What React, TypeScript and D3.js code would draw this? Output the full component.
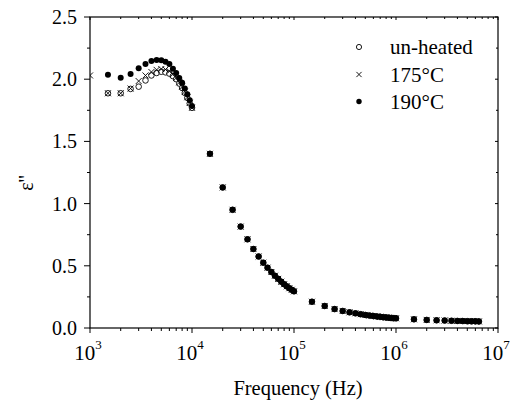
import React from "react";
import * as d3 from "d3";

// Frequencies (Hz)
const freqLow = [1500, 2000, 2500, 3000, 3500, 4000, 4500, 5000, 5500, 6000, 6500, 7000, 7500, 8000, 8500, 9000, 9500, 10000];
const freqHigh = [
  15000, 20000, 25000, 30000, 35000, 40000, 45000, 50000, 55000, 60000, 65000, 70000, 75000, 80000, 85000, 90000, 95000, 100000,
  150000, 200000, 250000, 300000, 350000, 400000, 450000, 500000, 550000, 600000, 650000, 700000, 750000, 800000, 850000, 900000, 950000, 1000000,
  1500000, 2000000, 2500000, 3000000, 3500000, 4000000, 4500000, 5000000, 5500000, 6000000, 6500000,
];

// ε'' low-frequency part per series
const unheatedLow = [1.887, 1.887, 1.922, 1.94, 1.99, 2.03, 2.05, 2.06, 2.055, 2.045, 2.025, 2.0, 1.965, 1.93, 1.89, 1.85, 1.805, 1.77];
const t175Low = [1.887, 1.887, 1.925, 1.985, 2.03, 2.058, 2.075, 2.082, 2.078, 2.065, 2.04, 2.01, 1.975, 1.94, 1.9, 1.855, 1.81, 1.77];
const t190Low = [2.035, 2.012, 2.042, 2.088, 2.122, 2.146, 2.154, 2.152, 2.14, 2.122, 2.085, 2.05, 2.01, 1.972, 1.925, 1.88, 1.83, 1.785];

// ε'' high-frequency part (the three samples coincide)
const sharedHigh = [
  1.4, 1.13, 0.95, 0.815, 0.713, 0.635, 0.575, 0.525, 0.485, 0.45, 0.42, 0.395, 0.372, 0.352, 0.335, 0.32, 0.307, 0.295,
  0.211, 0.177, 0.152, 0.137, 0.126, 0.118, 0.111, 0.105, 0.1, 0.096, 0.093, 0.09, 0.087, 0.085, 0.083, 0.081, 0.079, 0.078,
  0.07, 0.065, 0.062, 0.06, 0.058, 0.057, 0.056, 0.055, 0.054, 0.054, 0.053,
];

// extra 1 kHz point for 175°C (clipped at the axis)
const t175Extra = [{ f: 1000, v: 2.03 }];

const legendLabels = ["un-heated", "175°C", "190°C"];
const xTickExps = [3, 4, 5, 6, 7];
const yTicks = [0, 0.5, 1, 1.5, 2, 2.5];

const W = 516, H = 403;
const M = { left: 90, right: 498, top: 17, bottom: 328 };
const FONT = "'Liberation Serif', 'Times New Roman', serif";

export default function App() {
  const x = d3.scaleLog().domain([1e3, 1e7]).range([M.left, M.right]);
  const y = d3.scaleLinear().domain([0, 2.5]).range([M.bottom, M.top]);

  const allF = freqLow.concat(freqHigh);
  const mk = (low: number[]) => allF.map((f, i) => ({ f, v: i < low.length ? low[i] : sharedHigh[i - low.length] }));
  const unheated = mk(unheatedLow);
  const t175 = t175Extra.concat(mk(t175Low));
  const t190 = mk(t190Low);

  const minorX: number[] = [];
  for (let e = 3; e < 7; e++) for (let k = 2; k <= 9; k++) minorX.push(k * Math.pow(10, e));
  const minorY = d3.range(0.25, 2.5, 0.5);

  const cross = (cx: number, cy: number, s: number, key: any) => (
    <path key={key} d={`M${cx - s},${cy - s}L${cx + s},${cy + s}M${cx - s},${cy + s}L${cx + s},${cy - s}`} stroke="#000" strokeWidth={0.9} fill="none" />
  );

  return (
    <svg width={W} height={H} style={{ position: "absolute", left: 0, top: 0, background: "#fff" }} fontFamily={FONT}>
      <defs>
        <clipPath id="plot">
          <rect x={M.left} y={M.top} width={M.right - M.left} height={M.bottom - M.top} />
        </clipPath>
      </defs>
      <rect x={0} y={0} width={W} height={H} fill="#fff" />

      {/* data */}
      <g clipPath="url(#plot)">
        {unheated.map((d, i) => (
          <circle key={"u" + i} cx={x(d.f)} cy={y(d.v)} r={2.8} fill="#fff" stroke="#000" strokeWidth={0.9} />
        ))}
        {t190.map((d, i) => (
          <circle key={"f" + i} cx={x(d.f)} cy={y(d.v)} r={3} fill="#000" />
        ))}
        {t175.map((d, i) => cross(x(d.f), y(d.v), 3, "c" + i))}
      </g>

      {/* frame */}
      <rect x={M.left} y={M.top} width={M.right - M.left} height={M.bottom - M.top} fill="none" stroke="#000" strokeWidth={1.2} />

      {/* x ticks */}
      {xTickExps.map((e) => {
        const px = x(Math.pow(10, e));
        return (
          <g key={"xt" + e}>
            <line x1={px} x2={px} y1={M.bottom} y2={M.bottom + 5} stroke="#000" strokeWidth={1} />
            <line x1={px} x2={px} y1={M.top} y2={M.top + 3} stroke="#000" strokeWidth={1} />
            <text x={px - 2} y={360} fontSize={21} textAnchor="middle">
              10
              <tspan fontSize={13} dy={-11}>{e}</tspan>
            </text>
          </g>
        );
      })}
      {minorX.map((f, i) => {
        const px = x(f);
        return (
          <g key={"xm" + i}>
            <line x1={px} x2={px} y1={M.bottom} y2={M.bottom + 3} stroke="#000" strokeWidth={1} />
            <line x1={px} x2={px} y1={M.top} y2={M.top + 2} stroke="#000" strokeWidth={1} />
          </g>
        );
      })}

      {/* y ticks */}
      {yTicks.map((t) => {
        const py = y(t);
        return (
          <g key={"yt" + t}>
            <line x1={M.left - 6} x2={M.left} y1={py} y2={py} stroke="#000" strokeWidth={1} />
            <line x1={M.right - 3} x2={M.right} y1={py} y2={py} stroke="#000" strokeWidth={1} />
            <text x={77} y={py + 7} fontSize={20} textAnchor="end">{d3.format(".1f")(t)}</text>
          </g>
        );
      })}
      {minorY.map((t, i) => {
        const py = y(t);
        return (
          <g key={"ym" + i}>
            <line x1={M.left - 3} x2={M.left} y1={py} y2={py} stroke="#000" strokeWidth={1} />
            <line x1={M.right - 2} x2={M.right} y1={py} y2={py} stroke="#000" strokeWidth={1} />
          </g>
        );
      })}

      {/* axis titles */}
      <text x={298} y={395} fontSize={20.5} textAnchor="middle">Frequency (Hz)</text>
      <text transform="translate(33,183) rotate(-90)" fontSize={20} textAnchor="middle">ε''</text>

      {/* legend */}
      <g>
        <circle cx={359} cy={47} r={2.6} fill="#fff" stroke="#000" strokeWidth={0.9} />
        {cross(359, 74.5, 2.6, "lg")}
        <circle cx={359} cy={101.5} r={2.7} fill="#000" />
        {legendLabels.map((l, i) => (
          <text key={l} x={390} y={54 + i * 27.5} fontSize={21}>{l}</text>
        ))}
      </g>
    </svg>
  );
}
